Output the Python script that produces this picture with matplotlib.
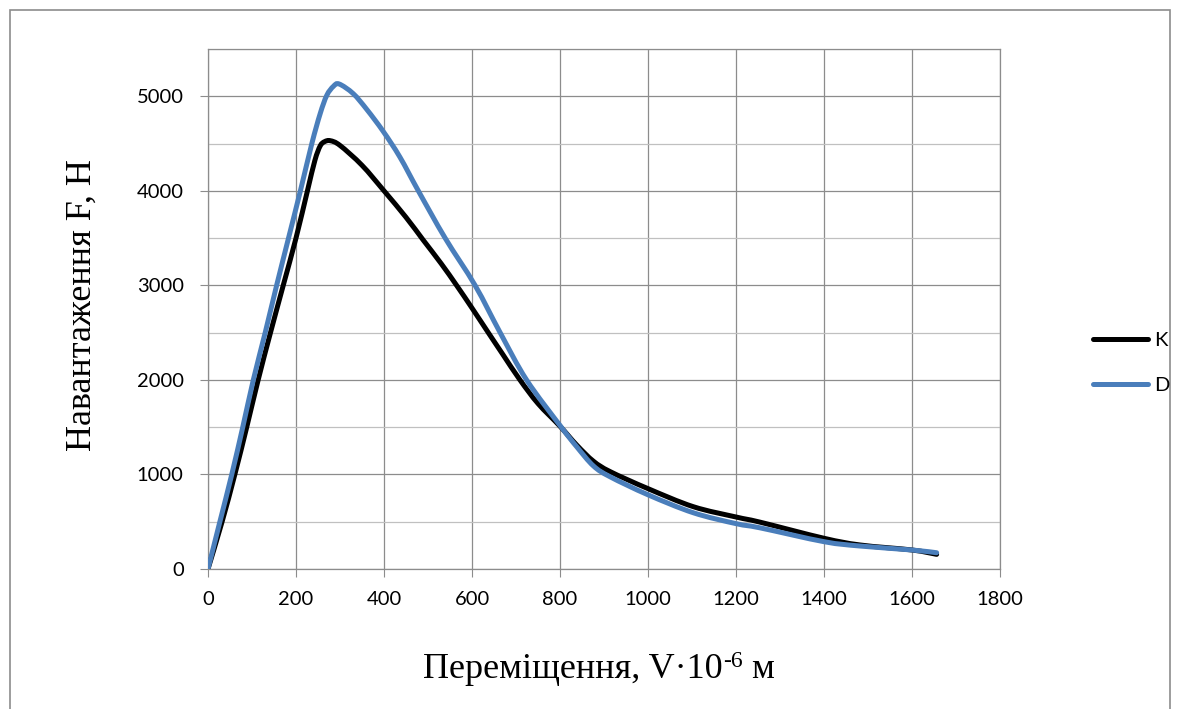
import matplotlib
matplotlib.use('Agg')
import numpy as np
import matplotlib.pyplot as plt
from matplotlib.patches import Rectangle, PathPatch
from matplotlib.path import Path
from matplotlib.lines import Line2D
from matplotlib.ticker import MultipleLocator
from matplotlib.transforms import IdentityTransform

# Values
K_X = [0, 32, 61, 88, 114, 142, 171, 200, 226, 243, 255, 265, 278, 300, 350,
       400, 450, 489, 530, 565, 600, 637, 670, 709, 750, 800, 838, 876, 914,
       1000, 1103, 1200, 1255, 1400, 1482, 1600, 1656]
K_Y = [0, 500, 1000, 1500, 2000, 2500, 3000, 3500, 4000, 4323, 4475, 4520,
       4530, 4480, 4270, 4000, 3720, 3480, 3230, 3000, 2760, 2500, 2270, 2000,
       1750, 1510, 1311, 1140, 1030, 850, 659, 550, 495, 325, 254, 201, 155]

D_X = [0, 27, 54, 79, 103, 130, 156, 183, 210, 236, 255, 270, 285, 298, 330,
       361, 398, 436, 478, 539, 607, 664, 724, 803, 838, 876, 914, 1000, 1103,
       1200, 1255, 1400, 1482, 1600, 1656]
D_Y = [0, 500, 1000, 1500, 2000, 2500, 3000, 3500, 4000, 4500, 4817, 5010,
       5105, 5130, 5028, 4860, 4630, 4358, 4000, 3500, 3000, 2500, 2000, 1500,
       1293, 1090, 975, 785, 595, 480, 435, 289, 243, 201, 172]

SERIES_NAMES = ['K', 'D']
X_TICKS = [0, 200, 400, 600, 800, 1000, 1200, 1400, 1600, 1800]
Y_TICKS = [0, 1000, 2000, 3000, 4000, 5000]

STYLE = {
    'K': '#000000',
    'D': '#4a7ebb',
    'major': '#8c8c8c',
    'minor': '#c0c0c0',
    'lw': 3.6,
}


def smooth_path(xs, ys):
  """Excel-like smoothed line: cubic Bezier segments through the points."""
  pts = np.column_stack([xs, ys]).astype(float)
  ext = np.vstack([pts[0], pts, pts[-1]])
  verts = [pts[0]]
  codes = [Path.MOVETO]
  for i in range(len(pts) - 1):
    p0, p1, p2, p3 = ext[i], ext[i + 1], ext[i + 2], ext[i + 3]
    verts += [p1 + (p2 - p0) / 6.0, p2 - (p3 - p1) / 6.0, p2]
    codes += [Path.CURVE4] * 3
  return Path(verts, codes)


W, H = 1178, 709
fig = plt.figure(figsize=(W / 100, H / 100), dpi=100)
ax = fig.add_axes([208 / W, 1 - 569 / H, 792 / W, 520 / H])

for name, xs, ys, z in [('K', K_X, K_Y, 3), ('D', D_X, D_Y, 4)]:
  patch = PathPatch(smooth_path(xs, ys), facecolor='none', edgecolor=STYLE[name],
                    lw=STYLE['lw'], capstyle='round', joinstyle='round', zorder=z)
  ax.add_patch(patch)

# axes limits / ticks
ax.set_xlim(0, 1800)
ax.set_ylim(0, 5500)
ax.set_xticks(X_TICKS)
ax.set_yticks(Y_TICKS)
ax.yaxis.set_minor_locator(MultipleLocator(500))

tick_font = {'family': 'Lato', 'size': 14.5}
ax.set_xticklabels([str(t) for t in X_TICKS], fontdict=tick_font)
ax.set_yticklabels([str(t) for t in Y_TICKS], fontdict=tick_font)
ax.tick_params(axis='both', which='major', direction='out', length=5.5,
               width=0.8, color=STYLE['major'], labelcolor='#000000')
ax.tick_params(axis='x', which='major', pad=10)
ax.tick_params(axis='y', which='major', pad=12)
ax.tick_params(axis='y', which='minor', length=0)

# grid
ax.grid(which='major', color=STYLE['major'], lw=0.9)
ax.grid(which='minor', axis='y', color=STYLE['minor'], lw=0.9)
ax.set_axisbelow(True)
for side in ax.spines:
  ax.spines[side].set_color(STYLE['major'])
  ax.spines[side].set_linewidth(0.9)

# x label in pieces so the superscript keeps a plain hyphen
serif = 'Liberation Serif'
base_y = H - 678
t1 = fig.text(423, base_y, 'Переміщення, V·10', family=serif, size=26,
              ha='left', va='baseline', transform=IdentityTransform())
fig.canvas.draw()
bb = t1.get_window_extent()
t2 = fig.text(bb.x1 + 1, base_y + 11, '-6', family=serif, size=17,
              ha='left', va='baseline', transform=IdentityTransform())
fig.canvas.draw()
bb2 = t2.get_window_extent()
fig.text(bb2.x1, base_y, ' м', family=serif, size=26, ha='left',
         va='baseline', transform=IdentityTransform())

fig.text(82 / W, 1 - 305 / H, 'Навантаження F, Н', family=serif,
         size=26, rotation=90, ha='center', va='center')

# legend
handles = [Line2D([], [], color=STYLE[n], lw=STYLE['lw'], solid_capstyle='round')
           for n in SERIES_NAMES]
fig.legend(handles, SERIES_NAMES, loc='center left',
           bbox_to_anchor=(1083 / W, 1 - 363 / H), frameon=False,
           prop={'family': 'Lato', 'size': 14.5}, handlelength=2.75,
           handletextpad=0.3, labelspacing=1.35, borderpad=0)

# outer chart border
fig.patches.append(Rectangle((10 / W, -0.05), 1160 / W, 1 - 10 / H + 0.05,
                             transform=fig.transFigure, fill=False,
                             edgecolor=STYLE['major'], lw=1.2))

fig.savefig('out.png', dpi=100)
